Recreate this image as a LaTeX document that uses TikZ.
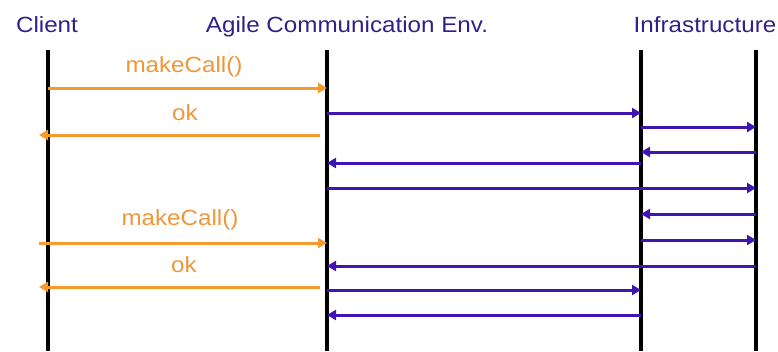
\documentclass[tikz,border=0pt]{standalone}
\usepackage{fontspec}
\setmainfont[FakeStretch=1.1]{Liberation Sans}
\usetikzlibrary{arrows.meta}
\definecolor{hdr}{HTML}{30218A}
\definecolor{purp}{HTML}{4014B0}
\definecolor{orng}{HTML}{F59A2E}
\definecolor{otxt}{HTML}{F0963A}
\tikzset{
  lifeline/.style={line width=3.2pt, black},
  header/.style={font=\fontsize{22}{24}\selectfont, text=hdr, inner sep=0pt, anchor=base},
  msglabel/.style={font=\fontsize{22}{24}\selectfont, text=otxt, inner sep=0pt, anchor=base},
  parr/.style={line width=3pt, purp, -{Triangle[length=9pt,width=10pt]}},
  oarr/.style={line width=3pt, orng, -{Triangle[length=9pt,width=10pt]}},
}
\begin{document}
\begin{tikzpicture}[x=1pt,y=-1pt]
\useasboundingbox (0,0) rectangle (778,351);
% headers
\node[header] (hcl) at (47,32) {Client};
\node[header] (hace) at (347,32) {Agile Communication Env.};
\node[header] (hinf) at (705,32) {Infrastructure};
% lifelines
\coordinate (cl) at (48,50);
\coordinate (ace) at (327,50);
\coordinate (inf) at (641,50);
\coordinate (inf2) at (756,50);
\coordinate (clb) at (48,351);
\coordinate (aceb) at (327,351);
\coordinate (infb) at (641,351);
\coordinate (inf2b) at (756,351);
\draw[lifeline] (cl) -- (clb);
\draw[lifeline] (ace) -- (aceb);
\draw[lifeline] (inf) -- (infb);
\draw[lifeline] (inf2) -- (inf2b);
% free ends of orange arrows
\coordinate (ol) at (39,0);
\coordinate (or) at (320,0);
% messages
\node[msglabel] (m1) at (184,72) {makeCall()};
\draw[oarr] (cl |- 0,88) -- (ace |- 0,88);
\node[msglabel] (k1) at (185,120) {ok};
\draw[oarr] (or |- 0,135) -- (ol |- 0,135);
\draw[parr] (ace |- 0,113) -- (inf |- 0,113);
\draw[parr] (inf |- 0,127) -- (inf2 |- 0,127);
\draw[parr] (inf2 |- 0,152) -- (inf |- 0,152);
\draw[parr] (inf |- 0,163) -- (ace |- 0,163);
\draw[parr] (ace |- 0,188) -- (inf2 |- 0,188);
\draw[parr] (inf2 |- 0,214) -- (inf |- 0,214);
\node[msglabel] (m2) at (180,225) {makeCall()};
\draw[oarr] (ol |- 0,243) -- (ace |- 0,243);
\draw[parr] (inf |- 0,240) -- (inf2 |- 0,240);
\draw[parr] (inf2 |- 0,266) -- (ace |- 0,266);
\node[msglabel] (k2) at (184,272) {ok};
\draw[oarr] (or |- 0,287) -- (ol |- 0,287);
\draw[parr] (ace |- 0,290) -- (inf |- 0,290);
\draw[parr] (inf |- 0,315) -- (ace |- 0,315);
\end{tikzpicture}
\end{document}
